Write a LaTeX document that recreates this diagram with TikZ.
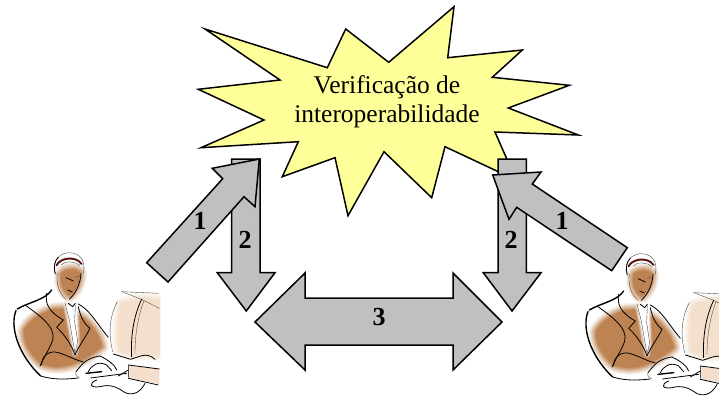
\documentclass[tikz,border=0pt]{standalone}
\usepackage{fontspec}
\setmainfont{Liberation Serif}
\definecolor{starfill}{HTML}{FFFF99}
\definecolor{arrowfill}{HTML}{C0C0C0}
\definecolor{skin}{HTML}{BE8352}
\definecolor{peach}{HTML}{F3DFCB}
\definecolor{hair}{HTML}{5A0F0F}
\tikzset{
  shapeline/.style={draw=black,line width=1.5pt,line join=miter,miter limit=10},
  bigarrow/.style={shapeline,fill=arrowfill},
  burst/.style={shapeline,fill=starfill},
  burstlabel/.style={font=\fontsize{25.5}{28}\selectfont,align=center},
  numlabel/.style={font=\fontsize{26}{28}\selectfont\bfseries},
  thick ink/.style={draw=black,line width=1.4pt,line cap=round,line join=round},
  ink/.style={draw=black,line width=.8pt,line cap=round,line join=round},
  thin ink/.style={draw=black!70,line width=.4pt,line cap=round,line join=round},
}
% soft-edged blob: #1 colour, #2 path
\newcommand{\softblob}[2]{%
  \foreach \w/\m in {14/10,12/20,10/32,8/45,6/58,4/72,2/86}{%
    \draw[draw=#1!\m!white,fill=#1!\m!white,line width=\w pt,line join=round] #2;}%
  \fill[#1] #2;}
\newcommand{\softwhite}[1]{%
  \foreach \w/\o in {6/.25,4/.4,2/.6}{%
    \draw[draw=white,fill=white,draw opacity=\o,line width=\w pt,line join=round] #1;}%
  \fill[white] #1;}
\newcommand{\persona}{%
  % monitor
  \softblob{peach}{(365,190) .. controls (352,240) and (352,290) .. (358,330) -- (395,345) -- (478,345) -- (478,180) -- (430,175) -- cycle}
  \fill[peach] (388,378) -- (478,386) -- (478,432) -- (388,415) -- cycle;
  % body
  \softblob{skin}{(72,270) .. controls (90,238) and (125,218) .. (160,208) -- (200,205) -- (255,238) .. controls (285,265) and (302,295) .. (306,320) .. controls (280,342) and (252,358) .. (225,370) .. controls (190,384) and (150,384) .. (122,370) .. controls (95,348) and (68,310) .. (72,270) -- cycle}
  \softwhite{(198,198) -- (228,198) -- (232,310) -- (225,342) -- (210,260) -- cycle}
  % face
  \softblob{skin}{(184,100) .. controls (198,84) and (228,84) .. (240,98) .. controls (242,125) and (230,152) .. (208,167) .. controls (190,158) and (178,125) .. (184,100) -- cycle}
  % head
  \draw[thin ink] (168,105) .. controls (155,70) and (170,42) .. (205,38) .. controls (240,38) and (258,60) .. (250,100);
  \draw[ink] (165,100) .. controls (160,80) and (165,60) .. (175,52);
  \draw[draw=hair,line width=1.9pt,line cap=round] (170,76) .. controls (178,55) and (225,45) .. (245,72);
  \draw[thin ink] (183,75) .. controls (195,62) and (225,62) .. (240,78);
  \draw[ink] (243,100) .. controls (242,125) and (232,155) .. (208,178);
  \draw[thin ink] (172,100) .. controls (168,125) and (175,160) .. (198,178);
  \draw[ink] (198,113) -- (220,123);
  \draw[thin ink] (225,112) -- (240,108);
  \draw[ink] (203,150) -- (217,156);
  % shoulders and arm
  \draw[thick ink] (155,150) .. controls (135,180) and (90,185) .. (52,207);
  \draw[thick ink] (48,212) .. controls (30,255) and (50,340) .. (122,408);
  \draw[ink] (122,408) .. controls (160,420) and (200,418) .. (235,414);
  \draw[ink] (235,192) .. controls (270,210) and (290,250) .. (325,292);
  % lapels, shirt, tie
  \draw[ink] (75,195) .. controls (110,220) and (170,260) .. (158,300) .. controls (150,325) and (135,345) .. (120,378);
  \draw[ink] (140,160) .. controls (135,190) and (145,215) .. (190,240) -- (170,262) .. controls (195,285) and (215,315) .. (225,345);
  \draw[ink] (235,200) .. controls (240,225) and (250,250) .. (270,265) .. controls (255,295) and (235,320) .. (225,345);
  \draw[thin ink] (195,190) -- (208,240) -- (225,340) -- (233,305) -- (224,245) -- (226,195);
  \draw[ink] (205,190) -- (218,200) -- (226,190);
  \draw[ink] (125,375) .. controls (125,345) and (150,330) .. (175,338) .. controls (200,345) and (225,360) .. (250,366);
  % hand
  \draw[ink] (228,395) .. controls (245,375) and (255,355) .. (300,348) .. controls (325,360) and (345,375) .. (350,390);
  \draw[ink] (265,395) .. controls (275,375) and (295,362) .. (320,375) -- (335,392);
  \draw[thick ink] (258,400) -- (305,395);
  \draw[thin ink] (228,395) .. controls (225,405) and (230,412) .. (240,412);
  % monitor lines
  \draw[thin ink] (365,155) -- (475,160);
  \draw[thin ink] (365,155) -- (425,178) -- (478,205);
  \draw[thin ink] (352,185) .. controls (328,230) and (325,280) .. (338,335);
  \draw[ink] (425,178) .. controls (400,230) and (392,290) .. (395,350);
  \draw[thin ink] (432,182) .. controls (412,235) and (405,290) .. (405,340);
  \draw[ink] (340,342) -- (392,358) .. controls (420,350) and (440,335) .. (465,358);
  \draw[ink] (385,375) -- (478,387);
  \draw[thin ink] (385,375) -- (385,412);
  \draw[ink] (385,415) -- (475,435);
  % mouse and cord
  \draw[ink] (272,414) -- (380,400);
  \draw[ink] (355,408) -- (385,390);
  \draw[ink] (290,420) .. controls (265,430) and (270,445) .. (300,440) .. controls (330,432) and (350,440) .. (375,458) .. controls (405,470) and (425,450) .. (435,430);
}
\begin{document}
\begin{tikzpicture}[x=1pt,y=-1pt]
\useasboundingbox (0,0) rectangle (719,396);
\clip (0,0) rectangle (719,396);
\begin{scope}
  \clip (0,240) rectangle (160,396);
  \begin{scope}[shift={(0,240)},x=0.3333pt,y=-0.3333pt]
    \persona
  \end{scope}
\end{scope}
\begin{scope}[shift={(572,241)},x=0.3333pt,y=-0.3333pt]
  \persona
\end{scope}
% star
\draw[burst] (205,29) -- (327.3,67.7) -- (345.7,29) -- (388.7,62.3) -- (454,6.7) -- (447.7,57.7)
  -- (522.3,50) -- (492.3,77.3) -- (569.3,85.3) -- (508.3,108) -- (578.3,135) -- (495,132)
  -- (516,180) -- (445,146.7) -- (431.7,197.7) -- (384,151.7) -- (348,215.7) -- (335,157.7)
  -- (282.3,176.7) -- (298.3,141.7) -- (201,147.7) -- (264,120) -- (198.3,89.3) -- (280,80) -- cycle;
% left arrows
\draw[bigarrow] (231.7,159) -- (260,159) -- (260,272.7) -- (275,272.7) -- (246.3,311)
  -- (217.3,272.7) -- (231.7,272.7) -- cycle;
\draw[bigarrow] (146.7,262.7) -- (222.7,178.7) -- (212.3,168.3) -- (259.3,159) -- (255,206.7)
  -- (244,196.7) -- (168,282) -- cycle;
% right arrows
\draw[bigarrow] (498,159) -- (526.3,159) -- (526.3,272.7) -- (541,272.7) -- (512,311)
  -- (483.3,272.7) -- (498,272.7) -- cycle;
\draw[bigarrow] (627.3,247.7) -- (532.3,184) -- (541,172) -- (492.7,175) -- (509,219.3)
  -- (516.7,207.3) -- (611.7,270.7) -- cycle;
% double arrow
\draw[bigarrow] (255,322) -- (305,273) -- (305,298) -- (453,298) -- (453,273) -- (502,322)
  -- (453,370) -- (453,345) -- (305,345) -- (305,370) -- cycle;
% texts
\node[burstlabel] (titleA) at (387,87) {Verificação de};
\node[burstlabel] (titleB) at (387,116) {interoperabilidade};
\node[numlabel] (one) at (200,221) {1};
\node[numlabel] (two) at (245,240) {2};
\node[numlabel] (oneb) at (562,221) {1};
\node[numlabel] (twob) at (511,240) {2};
\node[numlabel] (three) at (379,317) {3};
\end{tikzpicture}
\end{document}
